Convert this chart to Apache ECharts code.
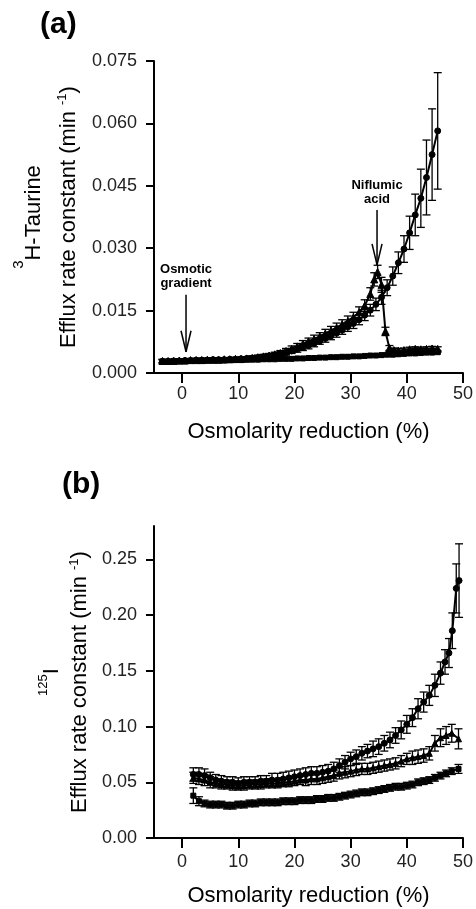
<!DOCTYPE html>
<html>
<head>
<meta charset="utf-8">
<script src="https://cdn.jsdelivr.net/npm/echarts@6/dist/echarts.min.js"></script>
<style>html,body{margin:0;padding:0;background:#fff}#c{width:476px;height:909px}</style>
</head>
<body>
<div id="c"></div>
<script>
// ---------- DATA ----------
const xTicks = [0, 10, 20, 30, 40, 50];
const yTicksA = [0, 0.015, 0.030, 0.045, 0.060, 0.075];
const yTicksB = [0, 0.05, 0.10, 0.15, 0.20, 0.25];

// Panel (a): [osmolarity reduction %, efflux rate constant, s.e.]
const aControl = [
[-3.5,.0028,.0004],[-2.5,.0028,.0004],[-1.5,.0029,.0004],[-0.5,.0029,.0004],[0.5,.0030,.0004],[1.5,.0030,.0004],[2.5,.0031,.0004],[3.5,.0031,.0004],[4.5,.0031,.0004],[5.5,.0032,.0004],[6.5,.0032,.0004],[7.5,.0032,.0004],[8.5,.0033,.0004],[9.5,.0033,.0004],[10.5,.0034,.0004],[11.5,.0035,.0004],[12.5,.0036,.0005],[13.5,.0037,.0005],[14.5,.0039,.0005],[15.5,.0041,.0005],[16.5,.0043,.0005],[17.5,.0046,.0006],[18.5,.0049,.0006],[19.5,.0053,.0006],[20.5,.0057,.0007],[21.5,.0061,.0007],[22.5,.0066,.0008],[23.5,.0071,.0008],[24.5,.0077,.0008],[25.5,.0083,.0009],[26.5,.0089,.0009],[27.5,.0096,.0010],[28.5,.0103,.0010],[29.5,.0111,.0011],[30.5,.0119,.0012],[31.5,.0128,.0012],[32.5,.0139,.0013],[33.5,.0151,.0014],[34.5,.0165,.0015],[35.5,.0182,.0017],[36.5,.0205,.0019],[37.5,.0233,.0022],[38.5,.0265,.0026],[39.5,.0298,.0032],[40.5,.0337,.0040],[41.5,.0380,.0050],[42.5,.0420,.0070],[43.5,.0470,.0090],[44.5,.0525,.0110],[45.5,.0582,.0140]
];
const aNiflumic = [
[-3.5,.0029,.0004],[-2.5,.0029,.0004],[-1.5,.0029,.0004],[-0.5,.0030,.0004],[0.5,.0030,.0004],[1.5,.0031,.0004],[2.5,.0031,.0004],[3.5,.0031,.0004],[4.5,.0032,.0004],[5.5,.0032,.0004],[6.5,.0032,.0004],[7.5,.0033,.0004],[8.5,.0033,.0004],[9.5,.0034,.0004],[10.5,.0034,.0004],[11.5,.0035,.0004],[12.5,.0036,.0005],[13.5,.0038,.0005],[14.5,.0040,.0005],[15.5,.0042,.0005],[16.5,.0045,.0005],[17.5,.0048,.0006],[18.5,.0053,.0006],[19.5,.0058,.0007],[20.5,.0064,.0007],[21.5,.0070,.0008],[22.5,.0076,.0008],[23.5,.0082,.0009],[24.5,.0088,.0009],[25.5,.0095,.0010],[26.5,.0102,.0010],[27.5,.0109,.0011],[28.5,.0117,.0011],[29.5,.0125,.0012],[30.5,.0134,.0012],[31.5,.0146,.0013],[32.5,.0162,.0014],[33.5,.0190,.0015],[34.2,.0225,.0016],[34.8,.0243,.0016],[35.5,.0212,.0018],[36.2,.0100,.0010],[36.9,.0060,.0006],[37.7,.0055,.0005],[38.5,.0054,.0005],[39.5,.0055,.0005],[40.5,.0057,.0005],[41.5,.0058,.0005],[42.5,.0057,.0005],[43.5,.0058,.0005],[44.5,.0059,.0005],[45.5,.0058,.0005]
];
const aIso = [
[-3.5,.0027,.0004],[-2.5,.0027,.0004],[-1.5,.0028,.0004],[-0.5,.0028,.0004],[0.5,.0028,.0004],[1.5,.0029,.0004],[2.5,.0029,.0004],[3.5,.0029,.0004],[4.5,.0030,.0004],[5.5,.0030,.0004],[6.5,.0030,.0004],[7.5,.0030,.0004],[8.5,.0031,.0004],[9.5,.0031,.0004],[10.5,.0031,.0004],[11.5,.0032,.0004],[12.5,.0032,.0004],[13.5,.0032,.0004],[14.5,.0033,.0004],[15.5,.0033,.0004],[16.5,.0033,.0004],[17.5,.0034,.0004],[18.5,.0034,.0004],[19.5,.0034,.0004],[20.5,.0035,.0004],[21.5,.0035,.0004],[22.5,.0036,.0004],[23.5,.0036,.0004],[24.5,.0037,.0004],[25.5,.0037,.0004],[26.5,.0038,.0004],[27.5,.0038,.0004],[28.5,.0039,.0004],[29.5,.0039,.0004],[30.5,.0040,.0004],[31.5,.0040,.0004],[32.5,.0041,.0004],[33.5,.0042,.0004],[34.5,.0042,.0004],[35.5,.0043,.0004],[36.5,.0044,.0004],[37.5,.0044,.0004],[38.5,.0045,.0004],[39.5,.0046,.0004],[40.5,.0047,.0004],[41.5,.0047,.0004],[42.5,.0048,.0004],[43.5,.0049,.0004],[44.5,.0049,.0004],[45.5,.0050,.0004]
];

// Panel (b)
const bTop = [
[2,.057,.006],[3,.057,.006],[4,.056,.006],[5,.054,.005],[6,.052,.005],[7,.051,.005],[8,.050,.005],[9,.050,.005],[10,.049,.005],[11,.050,.005],[12,.050,.005],[13,.050,.005],[14,.051,.005],[15,.051,.005],[16,.052,.006],[17,.052,.006],[18,.053,.006],[19,.054,.006],[20,.055,.006],[21,.056,.006],[22,.057,.006],[23,.058,.006],[24,.058,.006],[25,.059,.006],[26,.060,.006],[27,.062,.006],[28,.065,.006],[29,.068,.006],[30,.071,.006],[31,.073,.006],[32,.076,.006],[33,.078,.006],[34,.080,.007],[35,.082,.007],[36,.085,.007],[37,.088,.007],[38,.092,.007],[39,.097,.008],[40,.102,.008],[41,.108,.008],[42,.116,.009],[43,.122,.009],[44,.128,.009],[45,.137,.010],[46,.148,.010],[46.8,.158,.011],[47.5,.166,.013],[48.1,.186,.016],[48.8,.224,.022],[49.3,.231,.033]
];
const bMid = [
[2,.054,.005],[3,.053,.005],[4,.052,.005],[5,.050,.005],[6,.049,.004],[7,.048,.004],[8,.048,.004],[9,.047,.004],[10,.047,.004],[11,.047,.004],[12,.048,.004],[13,.048,.004],[14,.048,.004],[15,.049,.004],[16,.049,.004],[17,.049,.004],[18,.050,.004],[19,.050,.004],[20,.051,.004],[21,.052,.004],[22,.052,.005],[23,.053,.005],[24,.053,.005],[25,.054,.005],[26,.055,.005],[27,.056,.005],[28,.058,.005],[29,.059,.005],[30,.060,.005],[31,.061,.005],[32,.062,.005],[33,.062,.005],[34,.063,.005],[35,.064,.005],[36,.065,.005],[37,.066,.005],[38,.067,.005],[39,.069,.005],[40,.071,.005],[41,.072,.006],[42,.073,.006],[43,.074,.006],[44,.076,.006],[45,.085,.007],[46,.090,.008],[47,.092,.008],[48,.094,.008],[49.2,.089,.009]
];
const bLow = [
[2,.038,.007],[3,.033,.004],[4,.031,.003],[5,.030,.003],[6,.030,.003],[7,.030,.003],[8,.029,.003],[9,.029,.003],[10,.030,.003],[11,.030,.003],[12,.031,.003],[13,.031,.003],[14,.032,.003],[15,.032,.003],[16,.032,.003],[17,.032,.003],[18,.033,.003],[19,.033,.003],[20,.033,.003],[21,.034,.003],[22,.034,.003],[23,.034,.003],[24,.035,.003],[25,.035,.003],[26,.036,.003],[27,.036,.003],[28,.037,.003],[29,.038,.003],[30,.039,.003],[31,.040,.003],[32,.041,.003],[33,.041,.003],[34,.042,.003],[35,.043,.003],[36,.044,.003],[37,.045,.003],[38,.046,.003],[39,.046,.003],[40,.047,.003],[41,.048,.003],[42,.050,.003],[43,.051,.003],[44,.052,.003],[45,.054,.003],[46,.056,.003],[47,.058,.003],[48,.060,.003],[49.2,.062,.004]
];

// Annotations in panel (a): x position, arrow top, arrow tip (data units)
const annX = [0.7, 34.7];
const annTop = [0.0188, 0.0392];
const annTip = [0.0051, 0.0260];
const annText = ['Osmotic\ngradient', 'Niflumic\nacid'];

// ---------- CHART ----------
const FF = "'Liberation Sans', Arial, Helvetica, sans-serif";
const chart = echarts.init(document.getElementById('c'), null, {renderer: 'canvas'});

function xAxisCfg(gi, gap, margin) {
  return {
    type: 'value', gridIndex: gi, min: -5, max: 50,
    name: 'Osmolarity reduction (%)', nameLocation: 'middle', nameGap: gap,
    nameTextStyle: {fontFamily: FF, fontSize: 22, color: '#000'},
    axisLine: {show: true, onZero: false, lineStyle: {color: '#000', width: 2}},
    axisTick: {show: true, customValues: xTicks, length: 10, lineStyle: {color: '#000', width: 2}},
    axisLabel: {customValues: xTicks, margin: margin, fontFamily: FF, fontSize: 18, color: '#222'},
    splitLine: {show: false}
  };
}
function yAxisCfg(gi, max, ticks, dec, name, rich, gap) {
  return {
    type: 'value', gridIndex: gi, min: 0, max: max,
    name: name, nameLocation: 'middle', nameRotate: 90, nameGap: gap,
    nameTextStyle: {fontFamily: FF, fontSize: 22, color: '#000', rich: rich},
    axisLine: {show: true, onZero: false, lineStyle: {color: '#000', width: 2}},
    axisTick: {show: true, customValues: ticks, length: 8, lineStyle: {color: '#000', width: 2}},
    axisLabel: {customValues: ticks, margin: 17, fontFamily: FF, fontSize: 18, color: '#222',
      formatter: v => v.toFixed(dec)},
    splitLine: {show: false}
  };
}

function errSeries(data, gi, cap) {
  return {
    type: 'custom', xAxisIndex: gi, yAxisIndex: gi, data: data, encode: {x: 0, y: 1}, z: 2,
    renderItem: function (params, api) {
      const x = api.value(0), y = api.value(1), e = api.value(2);
      const p1 = api.coord([x, y + e]), p2 = api.coord([x, Math.max(0, y - e)]);
      const st = {stroke: '#000', lineWidth: 1.3};
      return {type: 'group', children: [
        {type: 'line', shape: {x1: p1[0], y1: p1[1], x2: p2[0], y2: p2[1]}, style: st},
        {type: 'line', shape: {x1: p1[0] - cap, y1: p1[1], x2: p1[0] + cap, y2: p1[1]}, style: st},
        {type: 'line', shape: {x1: p2[0] - cap, y1: p2[1], x2: p2[0] + cap, y2: p2[1]}, style: st}
      ]};
    }
  };
}
function lineSeries(data, gi, symbol, size) {
  return {
    type: 'line', xAxisIndex: gi, yAxisIndex: gi, data: data.map(d => [d[0], d[1]]),
    symbol: symbol, symbolSize: size, showSymbol: true, z: 3,
    lineStyle: {color: '#000', width: 2}, itemStyle: {color: '#000', borderColor: '#000'}
  };
}

const annData = annX.map((x, i) => [x, annTop[i], annTip[i]]);
const annSeries = {
  type: 'custom', xAxisIndex: 0, yAxisIndex: 0, data: annData, encode: {x: 0, y: 1}, z: 5,
  renderItem: function (params, api) {
    const x = api.value(0);
    const t = api.coord([x, api.value(1)]), p = api.coord([x, api.value(2)]);
    const st = {stroke: '#000', lineWidth: 1.5};
    return {type: 'group', children: [
      {type: 'line', shape: {x1: t[0], y1: t[1], x2: p[0], y2: p[1]}, style: st},
      {type: 'line', shape: {x1: p[0] - 5, y1: p[1] - 21, x2: p[0], y2: p[1]}, style: st},
      {type: 'line', shape: {x1: p[0] + 5, y1: p[1] - 21, x2: p[0], y2: p[1]}, style: st},
      {type: 'text', style: {text: annText[params.dataIndex], x: t[0], y: t[1] - 4,
        align: 'center', verticalAlign: 'bottom', lineHeight: 14,
        font: "bold 13px " + FF, fill: '#000'}}
    ]};
  }
};

const richA = {
  s3: {fontFamily: FF, fontSize: 15, lineHeight: 15, padding: [0, 0, 30, 0], color: '#000'},
  h: {fontFamily: FF, fontSize: 22, lineHeight: 44, color: '#000'},
  n: {fontFamily: FF, fontSize: 22, lineHeight: 26, color: '#000'},
  sup: {fontFamily: FF, fontSize: 13, lineHeight: 13, padding: [0, 0, 12, 0], color: '#000'}
};
const richB = {
  s3: {fontFamily: FF, fontSize: 13, lineHeight: 13, padding: [0, 0, 16, 0], color: '#000'},
  h: {fontFamily: FF, fontSize: 22, lineHeight: 29, color: '#000'},
  n: {fontFamily: FF, fontSize: 22, lineHeight: 27, color: '#000'},
  sup: {fontFamily: FF, fontSize: 13, lineHeight: 13, padding: [0, 0, 10, 0], color: '#000'}
};

chart.setOption({
  animation: false,
  backgroundColor: '#fff',
  title: [
    {text: '(a)', left: 40, top: 10, padding: 0, textStyle: {fontFamily: FF, fontSize: 30, fontWeight: 'bold', color: '#000'}},
    {text: '(b)', left: 62, top: 470, padding: 0, textStyle: {fontFamily: FF, fontSize: 30, fontWeight: 'bold', color: '#000'}}
  ],
  grid: [
    {left: 154, top: 61, width: 310, height: 312},
    {left: 154, top: 526, width: 310, height: 312}
  ],
  xAxis: [xAxisCfg(0, 48, 12), xAxisCfg(1, 47, 15)],
  yAxis: [
    yAxisCfg(0, 0.075, yTicksA, 3,
      '{s3|3}{h|H-Taurine}\n{n|Efflux rate constant (min }{sup|-1}{n|)}', richA, 71),
    yAxisCfg(1, 0.28, yTicksB, 2,
      '{s3|125}{h|I}\n{n|Efflux rate constant (min }{sup|-1}{n|)}', richB, 60)
  ],
  series: [
    errSeries(aIso, 0, 3), lineSeries(aIso, 0, 'rect', 5),
    errSeries(aControl, 0, 4), lineSeries(aControl, 0, 'circle', 6),
    errSeries(aNiflumic, 0, 4), lineSeries(aNiflumic, 0, 'triangle', 7),
    annSeries,
    errSeries(bLow, 1, 4), lineSeries(bLow, 1, 'rect', 5),
    errSeries(bMid, 1, 4), lineSeries(bMid, 1, 'triangle', 6),
    errSeries(bTop, 1, 4), lineSeries(bTop, 1, 'circle', 6)
  ]
});
</script>
</body>
</html>
